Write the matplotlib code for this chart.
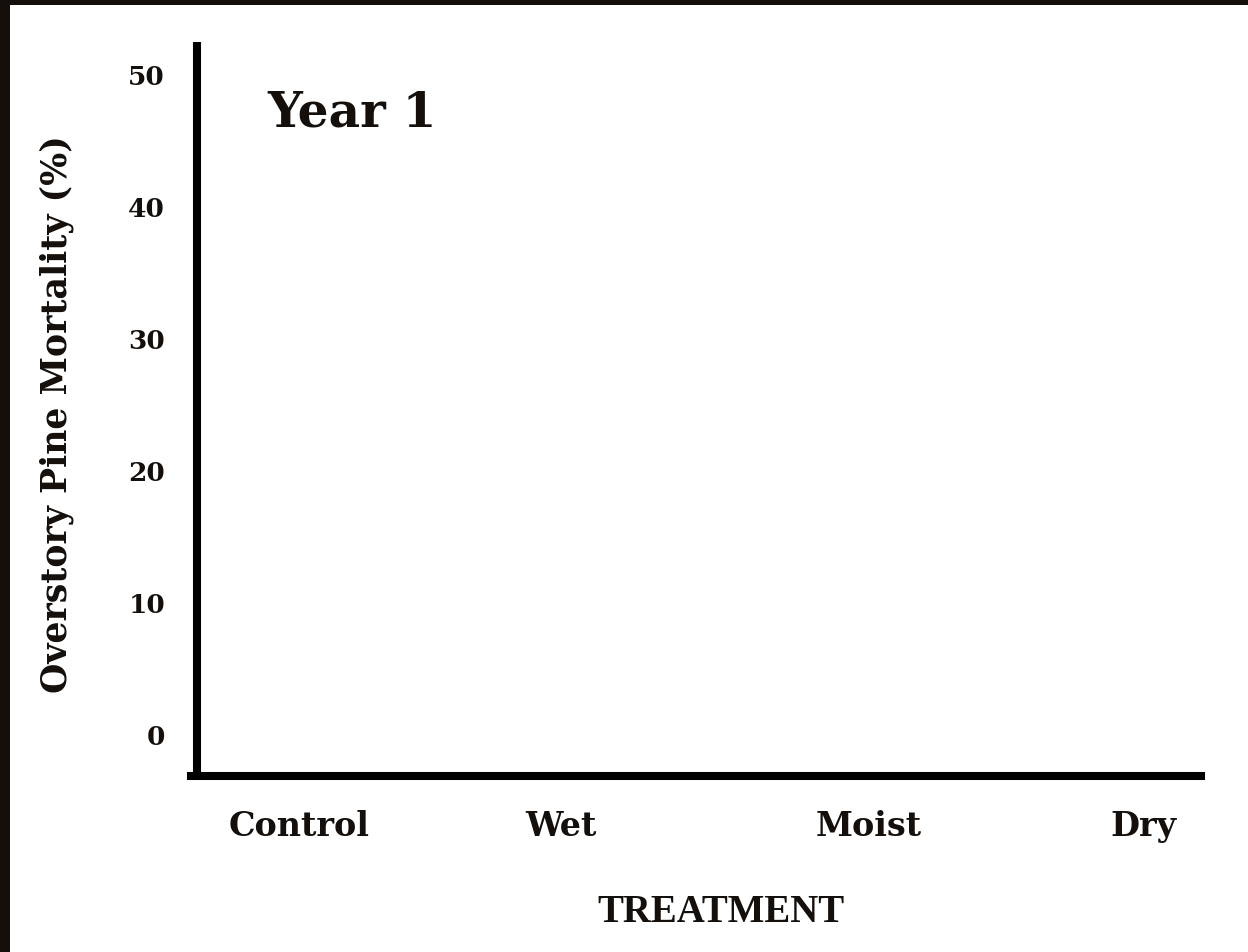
import matplotlib.pyplot as plt
from matplotlib.patches import Rectangle

# Chart content (the axes are empty in the original: no data plotted yet)
treatments = ['Control', 'Wet', 'Moist', 'Dry']
treatment_pos = [0.101, 0.361, 0.666, 0.939]
y_ticks = [0, 10, 20, 30, 40, 50]
panel_title = 'Year 1'
x_title = 'TREATMENT'
y_title = 'Overstory Pine Mortality (%)'

ink = '#140f0b'
wide_font = 'DejaVu Serif'
times_font = 'Liberation Serif'

fig = plt.figure(figsize=(12.48, 9.53), dpi=100)
fig.patch.set_facecolor('white')

# dark frame along the top and left edges of the picture
fig.add_artist(Rectangle((0, 1 - 6 / 953), 1, 6 / 953, transform=fig.transFigure,
                         facecolor=ink, edgecolor='none'))
fig.add_artist(Rectangle((0, 0), 10 / 1248, 1, transform=fig.transFigure,
                         facecolor=ink, edgecolor='none'))

ax = fig.add_axes([197 / 1248, (953 - 777) / 953, 1008 / 1248, 734 / 953])
ax.set_xlim(0, 1)
ax.set_ylim(-3.18, 52.42)

for side in ['top', 'right']:
    ax.spines[side].set_visible(False)
for side in ['left', 'bottom']:
    ax.spines[side].set_linewidth(5.8)
    ax.spines[side].set_color('black')
ax.spines['left'].set_capstyle('butt')
ax.spines['bottom'].set_capstyle('projecting')
ax.spines['bottom'].set_bounds(-0.006, 0.996)

ax.set_yticks(y_ticks)
ax.set_yticklabels([str(v) for v in y_ticks], fontsize=19, fontweight='bold',
                   family=wide_font, color=ink)
ax.set_xticks(treatment_pos)
ax.set_xticklabels(treatments, fontsize=24, fontweight='bold', family=wide_font, color=ink)
ax.tick_params(axis='y', length=0, pad=23)
ax.tick_params(axis='x', length=0, pad=24)

ax.set_xlabel(x_title, fontsize=28, fontweight='bold', family=times_font, color=ink, va='center')
ax.xaxis.set_label_coords(0.52, -0.185)
ax.set_ylabel(y_title, fontsize=25, fontweight='bold', family=wide_font, color=ink, va='center')
ax.yaxis.set_label_coords(-0.139, 0.4946)

ax.text(0.07, 0.905, panel_title, transform=ax.transAxes, fontsize=35,
        fontweight='bold', family=wide_font, color=ink, va='center', ha='left')

fig.savefig('out.png', dpi=100)
